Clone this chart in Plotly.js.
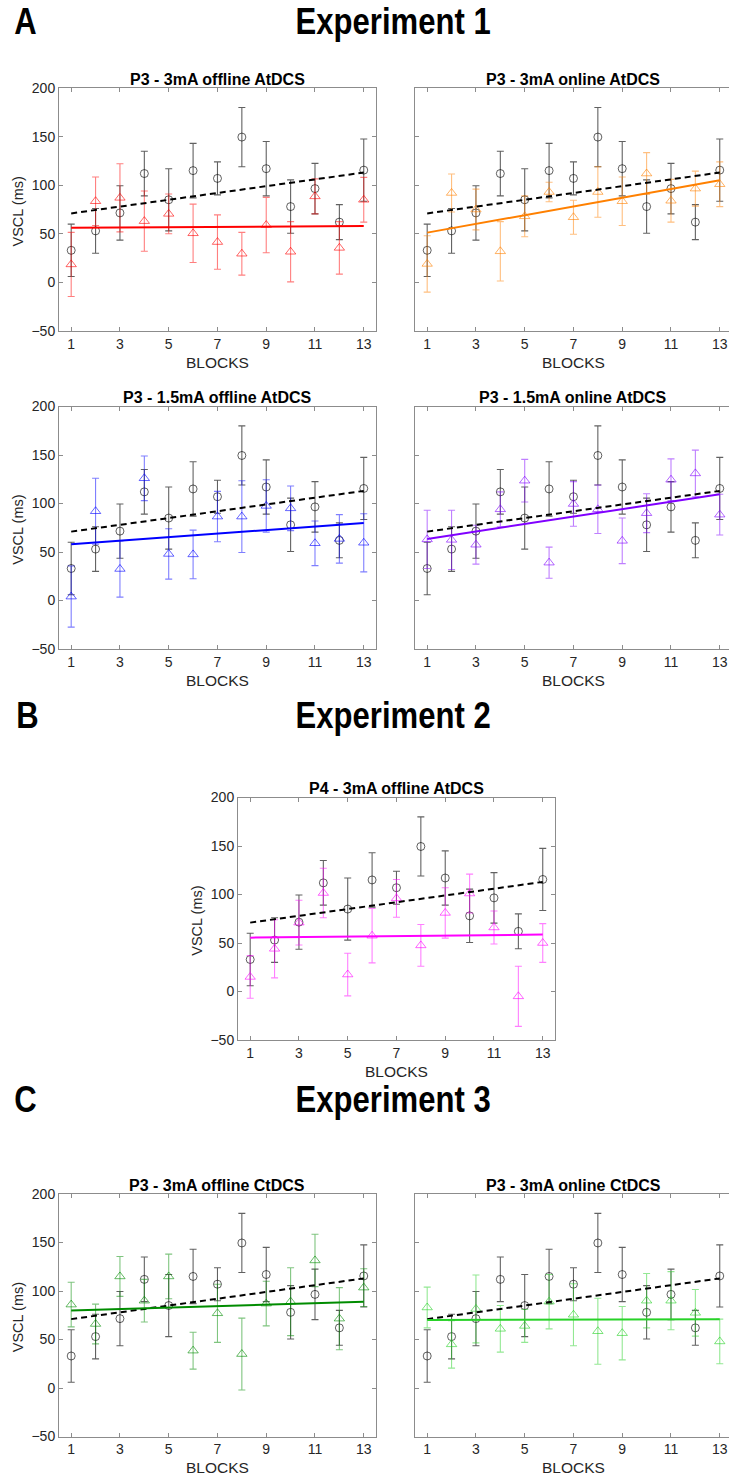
<!DOCTYPE html>
<html>
<head>
<meta charset="utf-8">
<script src="https://cdn.plot.ly/plotly-3.0.1.min.js"></script>
<style>
html,body{margin:0;padding:0;background:#fff;overflow:hidden;}
#chart{width:729px;height:1477px;}
</style>
</head>
<body>
<div id="chart"></div>
<script>
// ---------- data ----------
const blocks = [1,2,3,4,5,6,7,8,9,10,11,12,13];
const xTickVals = [1,3,5,7,9,11,13];
const yTickVals = [-50,0,50,100,150,200];
const fitX = [1, 13];

// control (black circles, same in every panel)
const ctrlMean = [33,53,71.5,112,85,115,107,149.5,117,78,96.5,62,115.5];
const ctrlErr  = [27,23,28,23,32,28,17,30.5,28,27.5,26,18,32];
const ctrlFit  = [71,113];

// Experiment 1
const offline3Mean = [18.5,83.5,87,63,70.5,50.5,41.5,29.5,59,31.5,88.5,35.5,85];
const offline3Err  = [33,25,35,31,20.5,30,28,22,28.5,31,18,27,23];
const offline3Fit  = [56.3,58];

const online3Mean = [19,92,75,32,68,93,67,93,83.5,112,84,96.5,101];
const online3Err  = [29,19.5,21,30.5,21,10,17.5,26,25,21.5,22,18,23];
const online3Fit  = [51.2,105];

const offline15Mean = [4,92,32.5,126,48,47.5,86.5,86.5,97.5,95,59,63.5,59.5];
const offline15Err  = [31.5,34,29,23,26,25,26,37,27,23,23,25,30];
const offline15Fit  = [58,80];

const online15Mean = [63,62.5,57.5,94,123.5,39,99.5,94,61.5,90,124.5,131,88.5];
const online15Err  = [30,30.5,20,18,22,16,23,25,23.5,20,21.5,24,21];
const online15Fit  = [63.5,109.5];

// Experiment 2
const p4Mean = [15,44,71,101.5,17.5,57.5,96,47.5,81,101,66,-5,50];
const p4Err  = [22,30,23,25.5,22,28,19.5,21.5,26,20,17,31,20];
const p4Fit  = [55.5,58.7];

// Experiment 3
const cOfflineMean = [86,66,115,90,115,38.5,77,35,87,89,131.5,71.5,103.5];
const cOfflineErr  = [23,20.5,20.5,22,23,19,30,37,23,35,27,32,19.5];
const cOfflineFit  = [80,89];

const cOnlineMean = [83,45,81.5,61,64,89,75.5,58.5,56.5,90,90,77.5,48];
const cOnlineErr  = [21,24.5,35,24,17,28,32,34,27.5,28,30,24,23];
const cOnlineFit  = [70,71];

const panelTitles = [
  'P3 - 3mA offline AtDCS','P3 - 3mA online AtDCS',
  'P3 - 1.5mA offline AtDCS','P3 - 1.5mA online AtDCS',
  'P4 - 3mA offline AtDCS',
  'P3 - 3mA offline CtDCS','P3 - 3mA online CtDCS'
];
const sectionLetters = ['A','B','C'];
const sectionTitles = ['Experiment 1','Experiment 2','Experiment 3'];
const xLabel = 'BLOCKS';
const yLabel = 'VSCL (ms)';

// ---------- layout geometry (pixels) ----------
const W = 729, H = 1477;
const PXU = 24.38; // px per block unit
const panels = [
  {mean:offline3Mean, err:offline3Err, fit:offline3Fit, col:[255,0,0],   x0:59,  x1:376, top:88,    bot:331,   left:true},
  {mean:online3Mean,  err:online3Err,  fit:online3Fit,  col:[255,128,0], x0:415, x1:729, top:88,    bot:331,   left:false},
  {mean:offline15Mean,err:offline15Err,fit:offline15Fit,col:[0,0,255],   x0:59,  x1:376, top:406.5, bot:649,   left:true},
  {mean:online15Mean, err:online15Err, fit:online15Fit, col:[128,0,255], x0:415, x1:729, top:406.5, bot:649,   left:false},
  {mean:p4Mean,       err:p4Err,       fit:p4Fit,       col:[255,0,255], x0:238, x1:555, top:797.5, bot:1040,  left:true},
  {mean:cOfflineMean, err:cOfflineErr, fit:cOfflineFit, col:[0,140,0],   x0:59,  x1:376, top:1194,  bot:1436.5,left:true},
  {mean:cOnlineMean,  err:cOnlineErr,  fit:cOnlineFit,  col:[40,210,40], x0:415, x1:729, top:1194,  bot:1436.5,left:false}
];
const sections = [{y:22, lx:25},{y:715, lx:27},{y:1099, lx:25}];

const rgba = (c,a) => `rgba(${c[0]},${c[1]},${c[2]},${a})`;
const px2x = p => p / W;
const px2y = p => 1 - p / H;

const FONT = 'Liberation Sans, Arial, sans-serif';
const traces = [];
const layout = {
  width: W, height: H,
  margin: {l:0,r:0,t:0,b:0},
  paper_bgcolor: '#fff', plot_bgcolor: '#fff',
  showlegend: false,
  font: {family: FONT, color: '#262626'},
  annotations: []
};

const axisColor = '#8c8c8c';
const tickFont = {family: FONT, size:14, color:'#262626'};

panels.forEach((p, i) => {
  const n = i + 1;
  const xa = n === 1 ? 'x' : 'x' + n;
  const ya = n === 1 ? 'y' : 'y' + n;
  const xRangeEnd = 0.5 + (p.x1 - p.x0) / PXU;

  layout['xaxis' + (n === 1 ? '' : n)] = {
    domain: [px2x(p.x0), px2x(p.x1)],
    anchor: ya,
    range: [0.5, xRangeEnd],
    tickvals: xTickVals,
    ticks: 'inside', ticklen: 4, tickcolor: axisColor, tickwidth: 1,
    showline: true, linecolor: axisColor, linewidth: 1,
    mirror: 'allticks',
    showgrid: false, zeroline: false,
    tickfont: tickFont,
    fixedrange: true
  };
  layout['yaxis' + (n === 1 ? '' : n)] = {
    domain: [px2y(p.bot), px2y(p.top)],
    anchor: xa,
    range: [-50, 200],
    tickvals: yTickVals,
    ticks: 'inside', ticklen: 4, tickcolor: axisColor, tickwidth: 1,
    showline: true, linecolor: axisColor, linewidth: 1,
    mirror: p.left ? 'allticks' : false,
    showticklabels: p.left,
    showgrid: false, zeroline: false,
    tickfont: tickFont,
    fixedrange: true
  };

  // control error bars + circles
  traces.push({
    x: blocks, y: ctrlMean, xaxis: xa, yaxis: ya,
    type: 'scatter', mode: 'markers',
    marker: {symbol:'circle-open', size:8, color:'rgba(0,0,0,0.62)', line:{width:1}},
    error_y: {type:'data', array: ctrlErr, visible:true, color:'rgba(0,0,0,0.62)', thickness:1.1, width:3.5},
    hoverinfo: 'skip'
  });
  // condition error bars + triangles
  traces.push({
    x: blocks, y: p.mean, xaxis: xa, yaxis: ya,
    type: 'scatter', mode: 'markers',
    marker: {symbol:'triangle-up-open', size:9, color: rgba(p.col,0.6), line:{width:1}},
    error_y: {type:'data', array: p.err, visible:true, color: rgba(p.col,0.5), thickness:1.1, width:3.5},
    hoverinfo: 'skip'
  });
  // control fit (dashed)
  traces.push({
    x: fitX, y: ctrlFit, xaxis: xa, yaxis: ya,
    type: 'scatter', mode: 'lines',
    line: {color:'#000', width:2, dash:'6px,4px'},
    hoverinfo: 'skip'
  });
  // condition fit
  traces.push({
    x: fitX, y: p.fit, xaxis: xa, yaxis: ya,
    type: 'scatter', mode: 'lines',
    line: {color: rgba(p.col,1), width:2},
    hoverinfo: 'skip'
  });

  const cx = (p.x0 + p.x0 + 13 * PXU) / 2; // centre of full axes box
  // panel title
  layout.annotations.push({
    xref:'paper', yref:'paper', x: px2x(cx), y: px2y(p.top - 9),
    xanchor:'center', yanchor:'middle', showarrow:false,
    text: '<b>' + panelTitles[i] + '</b>',
    font: {family: FONT, size:16, color:'#000'}
  });
  // x label
  layout.annotations.push({
    xref:'paper', yref:'paper', x: px2x(cx), y: px2y(p.bot + 31),
    xanchor:'center', yanchor:'middle', showarrow:false,
    text: xLabel,
    font: {family: FONT, size:15.5, color:'#262626'}
  });
  // y label
  if (p.left) {
    layout.annotations.push({
      xref:'paper', yref:'paper', x: px2x(p.x0 - 41), y: px2y((p.top + p.bot) / 2 + 2),
      xanchor:'center', yanchor:'middle', showarrow:false, textangle:-90,
      text: yLabel,
      font: {family: FONT, size:14.5, color:'#262626'}
    });
  }
});

sections.forEach((s, i) => {
  layout.annotations.push({
    xref:'paper', yref:'paper', x: px2x(s.lx), y: px2y(s.y),
    xanchor:'center', yanchor:'middle', showarrow:false,
    text: '<b>' + sectionLetters[i] + '</b>',
    font: {family: FONT, size:37, color:'#000'}
  });
  layout.annotations.push({
    xref:'paper', yref:'paper', x: px2x(393), y: px2y(s.y),
    xanchor:'center', yanchor:'middle', showarrow:false,
    text: '<b>' + sectionTitles[i] + '</b>',
    font: {family: FONT, size:37, color:'#000'}
  });
});

Plotly.newPlot('chart', traces, layout, {displayModeBar:false, staticPlot:true}).then(() => {
  // the section headings use a condensed bold face: narrow them horizontally
  document.querySelectorAll('#chart .annotation-text').forEach(t => {
    const s = t.textContent;
    if (sectionTitles.includes(s) || sectionLetters.includes(s)) {
      t.style.transformBox = 'fill-box';
      t.style.transformOrigin = 'center';
      t.style.transform = 'scaleX(0.84)';
    }
  });
});
</script>
</body>
</html>
